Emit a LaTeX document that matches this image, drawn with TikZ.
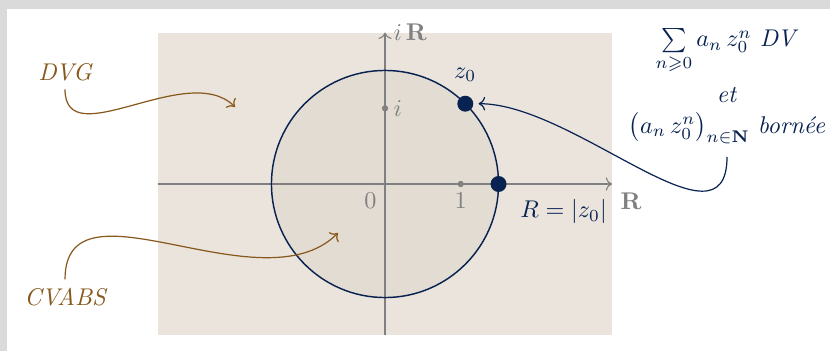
\documentclass[tikz,border=0pt]{standalone}
\usepackage{amssymb}
\usetikzlibrary{arrows.meta}
\definecolor{navy}{RGB}{8,34,82}
\definecolor{brownish}{RGB}{135,88,28}
\definecolor{beige}{RGB}{234,228,220}
\definecolor{diskcol}{RGB}{227,220,210}
\definecolor{bordergray}{RGB}{218,218,218}
\definecolor{axisgray}{RGB}{128,128,128}
\begin{document}
\begin{tikzpicture}[x=1.1cm,y=1.1cm,
  axisline/.style={draw=axisgray,line width=0.45pt,->},
  graytext/.style={text=axisgray},
  navytext/.style={text=navy},
  blocktext/.style={text=navy,inner sep=1pt,anchor=base},
  browntext/.style={text=brownish,font=\itshape},
  bigdot/.style={circle,fill=navy,inner sep=0pt,minimum size=6.6pt},
  smalldot/.style={circle,fill=axisgray,inner sep=0pt,minimum size=2.6pt},
  brownarrow/.style={draw=brownish,line width=0.5pt,->},
  navyarrow/.style={draw=navy,line width=0.5pt,->,shorten >=2pt}]
% canvas
\fill[bordergray] (-5.0859,-2.2061) rectangle (5.8785,2.4306);
\fill[white] (-4.993,-2.2061) rectangle (5.8785,2.3118);
\useasboundingbox (-5.0859,-2.2061) rectangle (5.8785,2.4306);
% plane
\fill[beige] (-3,-2) rectangle (3,2);
\fill[diskcol] (0,0) circle (1.5);
% axes
\coordinate (xl) at (-3,0);
\coordinate (xr) at (3,0);
\coordinate (yb) at (0,-2);
\coordinate (yt) at (0,2);
\draw[axisline] (xl) -- (xr);
\draw[axisline] (yb) -- (yt);
\draw[navy,line width=0.6pt] (0,0) circle (1.5);
% axis labels
\node[graytext,right] (iR) at (yt) {$i\,\mathbf{R}$};
\node[graytext,below right] (RR) at (xr) {$\mathbf{R}$};
\node[graytext,below left] (zero) at (0,0) {$0$};
\node[smalldot] (one) at (1,0) {};
\node[graytext,below] (onelab) at (1,0) {$1$};
\node[smalldot] (idot) at (0,1) {};
\node[graytext,right] (ilab) at (0,1) {$i$};
% points
\node[bigdot] (z0) at (45:1.5) {};
\node[navytext,above=5.5pt] (z0lab) at (z0) {$z_0$};
\node[bigdot] (Rpt) at (1.5,0) {};
\node[navytext,anchor=north west,xshift=5.5pt,yshift=-3pt] (Rlab) at (Rpt) {$R=|z_0|$};
% left labels
\node[browntext] (dvg) at (-4.227,1.48) {DVG};
\coordinate (dvgtip) at (-1.981,1.017);
\draw[brownarrow] (dvg.south) to[out=-90,in=135] (dvgtip);
\node[browntext] (cvabs) at (-4.227,-1.492) {CVABS};
\coordinate (cvtip) at (-0.621,-0.647);
\draw[brownarrow] (cvabs.north) to[out=90,in=-135] (cvtip);
% right block
\node[blocktext] (l1) at (4.518,1.81) {$\sum\limits_{n\geqslant 0} a_n\,z_0^n$ \textit{DV}};
\node[blocktext] (l2) at (4.518,1.083) {\textit{et}};
\node[blocktext] (l3) at (4.518,0.67) {$\bigl(a_n\,z_0^n\bigr)_{n\in\mathbf{N}}$ \textit{bornée}};
\draw[navyarrow] ([yshift=-4pt]l3.south) to[out=-90,in=0] (z0);
\end{tikzpicture}
\end{document}
